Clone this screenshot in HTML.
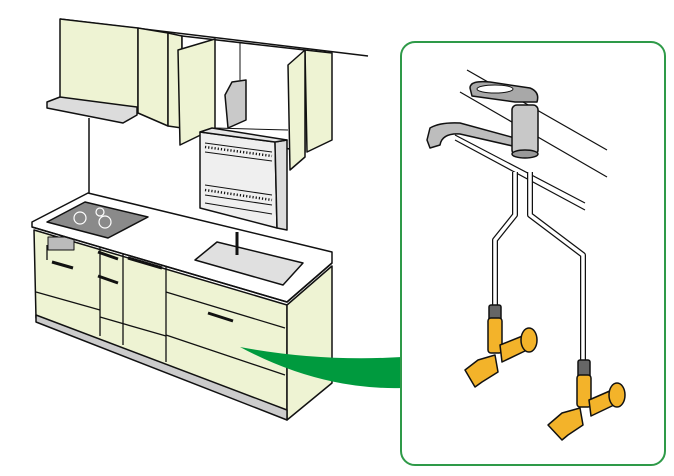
<!DOCTYPE html>
<html><head><meta charset="utf-8"><style>html,body{margin:0;padding:0;background:#fff}svg{display:block}</style></head><body>
<svg width="674" height="476" viewBox="0 0 674 476" xmlns="http://www.w3.org/2000/svg" stroke="#111" stroke-width="1.5" stroke-linejoin="round" fill="none">
<line x1="60" y1="19" x2="368" y2="56"/>
<polygon points="60,19 138,28 138,113 60,100" fill="#eef3d3"/>
<polygon points="138,28 168,33 168,126 138,113" fill="#eef3d3"/>
<polygon points="168,33 182,36 182,128 168,126" fill="#eef3d3"/>
<polygon points="182,36 305,50 305,152 182,128" fill="#fff"/>
<polygon points="305,50 332,53 332,140 307,152" fill="#eef3d3"/>
<line x1="215" y1="128" x2="288" y2="130" stroke-width="1"/>
<polygon points="178,50 215,39 215,128 180,145" fill="#eef3d3"/>
<polygon points="288,65 305,50 305,157 290,170" fill="#eef3d3"/>
<line x1="240" y1="42" x2="240" y2="80" stroke-width="1"/>
<polygon points="225,95 232,82 246,80 246,120 228,128" fill="#c9c9c9"/>
<!-- dish rack -->
<polygon points="200,132 275,142 277,228 200,208" fill="#efefef"/>
<polygon points="275,142 287,140 287,205 287,230 277,228" fill="#ddd"/>
<polygon points="200,132 212,128 287,140 275,142" fill="#e6e6e6"/>
<g stroke-width="1">
<line x1="205" y1="143" x2="272" y2="152"/><line x1="205" y1="152" x2="272" y2="161"/>
<line x1="205" y1="185" x2="272" y2="195"/><line x1="205" y1="195" x2="272" y2="205"/>
<line x1="205" y1="203" x2="272" y2="214"/>
</g>
<g stroke-width="2.5" stroke-dasharray="1.2 2">
<line x1="205" y1="147" x2="272" y2="156"/><line x1="205" y1="190" x2="272" y2="200"/>
</g>
<polygon points="47,102 60,97 137,107 137,115 123,123 47,108" fill="#dcdcdc"/>
<line x1="89" y1="118" x2="89" y2="193"/>
<polygon points="34,230 287,305 287,418 36,318" fill="#eef3d3"/>
<polygon points="287,305 332,266 332,383 287,420" fill="#eef3d3"/>
<polygon points="36,315 287,410 287,420 36,322" fill="#ccc"/>
<g stroke-width="1.3">
<line x1="36" y1="292" x2="100" y2="310"/><line x1="100" y1="245" x2="100" y2="336"/>
<line x1="123" y1="252" x2="123" y2="345"/><line x1="166" y1="266" x2="166" y2="362"/>
<line x1="166" y1="292" x2="285" y2="328"/><line x1="166" y1="335" x2="285" y2="375"/>
<line x1="100" y1="317" x2="166" y2="336"/><line x1="47" y1="245" x2="47" y2="260"/>
</g>
<rect x="48" y="237" width="26" height="13" fill="#bbb" stroke-width="1"/>
<g stroke-width="3">
<line x1="52" y1="262" x2="73" y2="268"/><line x1="98" y1="252" x2="118" y2="259"/>
<line x1="98" y1="276" x2="118" y2="283"/><line x1="208" y1="313" x2="233" y2="321"/>
<line x1="128" y1="258" x2="162" y2="268"/>
</g>
<polygon points="32,222 88,193 332,252 332,263 287,302 32,227" fill="#fff"/>
<polyline points="32,227 287,302 332,263"/>
<polygon points="47,222 85,202 148,217 108,238" fill="#8a8a8a"/>
<circle cx="80" cy="218" r="6" stroke="#fff" stroke-width="1.2"/>
<circle cx="105" cy="222" r="6" stroke="#fff" stroke-width="1.2"/>
<circle cx="100" cy="212" r="4" stroke="#fff" stroke-width="1.2"/>
<polygon points="195,260 217,242 303,263 283,285" fill="#e0e0e0"/>
<line x1="237" y1="232" x2="237" y2="255" stroke-width="3"/>
<path d="M240,347 Q320,362 402,357 L402,388 Q320,390 240,347 Z" fill="#009a3e" stroke="none"/>
<rect x="401" y="42" width="264" height="423" rx="14" fill="#fff" stroke="#2e9a48" stroke-width="2"/>
<g stroke-width="1.2">
<line x1="467" y1="70" x2="607" y2="150"/><line x1="460" y1="92" x2="607" y2="177"/>
<line x1="455" y1="135" x2="585" y2="203"/><line x1="455" y1="140" x2="585" y2="210"/>
</g>
<path d="M427,140 L430,128 Q440,122 460,123 L515,138 L517,147 L460,134 Q442,133 440,145 L430,148 Z" fill="#bdbdbd"/>
<rect x="512" y="105" width="26" height="50" rx="5" fill="#c8c8c8"/>
<ellipse cx="525" cy="154" rx="13" ry="4" fill="#999"/>
<path d="M470,88 Q470,80 490,82 L530,88 Q540,92 537,102 L515,102 L472,96 Z" fill="#a8a8a8"/>
<ellipse cx="495" cy="89" rx="18" ry="4" fill="#fff" stroke-width="1"/>
<g>
<path d="M515,172 L515,215 L495,240 L495,305" stroke="#111" stroke-width="6"/>
<path d="M515,172 L515,215 L495,240 L495,305" stroke="#fff" stroke-width="3.5"/>
<path d="M530,172 L530,215 L583,255 L583,360" stroke="#111" stroke-width="6"/>
<path d="M530,172 L530,215 L583,255 L583,360" stroke="#fff" stroke-width="3.5"/>
</g>
<g fill="#f3b32a">
<rect x="489" y="305" width="12" height="40" rx="2" fill="#666"/>
<rect x="488" y="318" width="14" height="35" rx="3"/>
<path d="M500,345 L525,335 L527,350 L502,362 Z"/>
<ellipse cx="529" cy="340" rx="8" ry="12"/>
<path d="M465,370 L478,360 L495,355 L498,372 L482,382 L475,387 Z"/>
<rect x="578" y="360" width="12" height="38" rx="2" fill="#666"/>
<rect x="577" y="375" width="14" height="32" rx="3"/>
<path d="M589,400 L612,390 L614,405 L591,416 Z"/>
<ellipse cx="617" cy="395" rx="8" ry="12"/>
<path d="M548,425 L562,413 L580,408 L583,425 L568,435 L562,440 Z"/>
</g>
</svg>
</body></html>
